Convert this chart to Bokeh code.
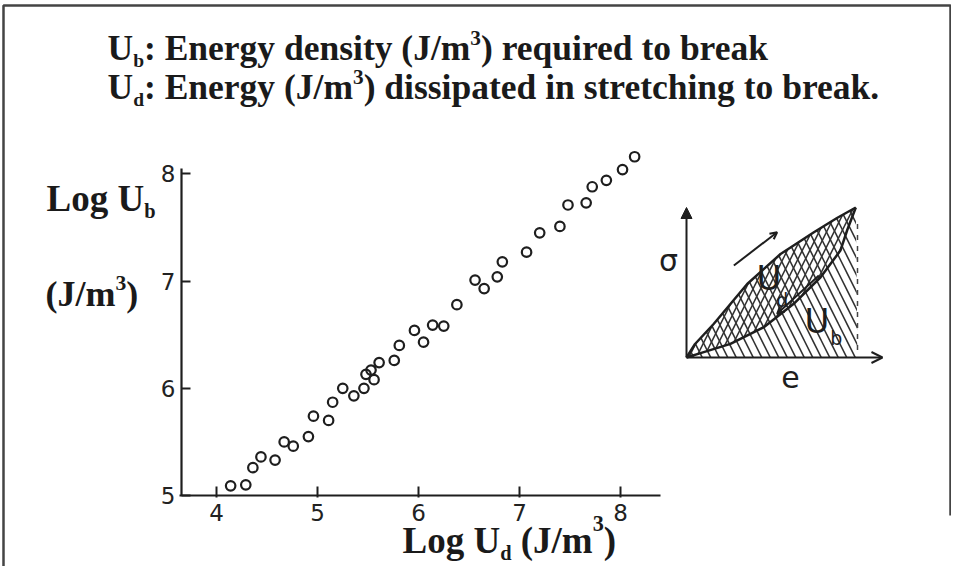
from bokeh.plotting import figure
from bokeh.models import Range1d, FixedTicker, Arrow, NormalHead, OpenHead
from bokeh.embed import file_html
from bokeh.resources import INLINE
from bokeh.core.properties import value

# ---------------- data ----------------
log_ud = [4.14, 4.29, 4.36, 4.44, 4.58, 4.67, 4.76, 4.91, 4.96, 5.11, 5.15, 5.25, 5.36,
          5.46, 5.48, 5.56, 5.61, 5.53, 5.76, 5.81, 5.96, 6.05, 6.14, 6.25, 6.38, 6.56,
          6.65, 6.78, 6.83, 7.07, 7.20, 7.40, 7.48, 7.66, 7.72, 7.86, 8.02, 8.14]
log_ub = [5.09, 5.10, 5.26, 5.36, 5.33, 5.50, 5.46, 5.55, 5.74, 5.70, 5.87, 6.00, 5.93,
          6.00, 6.13, 6.08, 6.24, 6.17, 6.26, 6.40, 6.54, 6.43, 6.59, 6.58, 6.78, 7.01,
          6.93, 7.04, 7.18, 7.27, 7.45, 7.51, 7.71, 7.73, 7.88, 7.94, 8.04, 8.16]
x_ticks = [4, 5, 6, 7, 8]
y_ticks = [5, 6, 7, 8]

# inset schematic (stress sigma vs strain e, normalised)
strain_up = [0.0, 0.05, 0.16, 0.355, 0.55, 0.745, 0.88, 0.99]
stress_up = [0.0, 0.09, 0.225, 0.49, 0.69, 0.835, 0.93, 1.0]
strain_down = [0.99, 0.94, 0.90, 0.784, 0.627, 0.452, 0.257, 0.082, 0.0]
stress_down = [1.0, 0.85, 0.713, 0.535, 0.358, 0.202, 0.091, 0.029, 0.0]
dash_e = [1.0, 1.0]
dash_s = [0.05, 0.93]

title1 = [("U", "n"), ("b", "sub"), (": Energy density (J/m", "n"), ("3", "sup"), (") required to break", "n")]
title2 = [("U", "n"), ("d", "sub"), (": Energy (J/m", "n"), ("3", "sup"), (") dissipated in stretching to break.", "n")]
ylab1 = [("Log U", "n"), ("b", "sub")]
ylab2 = [("(J/m", "n"), ("3", "sup"), (")", "n")]
xlab = [("Log U", "n"), ("d", "sub"), (" (J/m", "n"), ("3", "sup"), (")", "n")]

# ---------------- figure (frame = whole canvas, axes at fixed locations) ----------------
W, H = 951, 566
p = figure(width=W, height=H, min_border=0,
           x_range=Range1d(1.8614, 11.2772), y_range=Range1d(4.3377, 9.6175),
           output_backend="svg", toolbar_location=None, background_fill_color="white",
           border_fill_color="white")
p.extra_x_ranges = {"inset": Range1d(-4.0117, 1.5497), "px": Range1d(0, W)}
p.extra_y_ranges = {"inset": Range1d(-1.3933, 2.38), "px": Range1d(H, 0)}
p.xgrid.visible = False
p.ygrid.visible = False
p.outline_line_color = None

ink = "#1e1e1e"
for ax in (p.xaxis, p.yaxis):
    ax.axis_line_color = ink
    ax.axis_line_width = 2.2
    ax.major_tick_line_color = ink
    ax.major_tick_line_width = 2
    ax.minor_tick_line_color = None
    ax.major_label_text_font = "DejaVu Sans"
    ax.major_label_text_font_size = "23px"
    ax.major_label_text_color = "#222"
    ax.major_label_standoff = 6
p.xaxis.ticker = FixedTicker(ticks=x_ticks)
p.yaxis.ticker = FixedTicker(ticks=y_ticks)
p.xaxis.fixed_location = 5.0
p.yaxis.fixed_location = 3.6535
p.xaxis.bounds = (3.63, 8.40)
p.yaxis.bounds = (5.0, 8.05)
p.xaxis.major_tick_in = 9
p.xaxis.major_tick_out = 2
p.yaxis.major_tick_in = 9
p.yaxis.major_tick_out = 0

p.scatter(log_ud, log_ub, marker="circle", size=9.5, fill_color=None,
          line_color=ink, line_width=2.2)

# ---------------- inset ----------------
IR = dict(x_range_name="inset", y_range_name="inset")
p.patch(strain_up + [1.0], stress_up + [0.0], fill_alpha=0, line_color=None,
        hatch_pattern="\\", hatch_color="#333", hatch_scale=17, hatch_weight=1.6, **IR)
p.patch(strain_up + strain_down, stress_up + stress_down, fill_alpha=0, line_color=None,
        hatch_pattern="/", hatch_color="#333", hatch_scale=15, hatch_weight=1.6, **IR)
p.line(strain_up, stress_up, line_color=ink, line_width=2.5, **IR)
p.line(strain_down, stress_down, line_color=ink, line_width=2.5, **IR)
p.line(dash_e, dash_s, line_color="#444", line_width=1.5, line_dash="5 6", **IR)

p.add_layout(Arrow(x_start=0, y_start=0, x_end=0, y_end=1.0, line_color=ink, line_width=2,
                   end=NormalHead(size=11, fill_color=ink, line_color=ink), **IR))
p.add_layout(Arrow(x_start=0, y_start=0, x_end=1.146, y_end=0, line_color=ink, line_width=2,
                   end=OpenHead(size=11, line_color=ink, line_width=2), **IR))
p.add_layout(Arrow(x_start=0.277, y_start=0.613, x_end=0.53, y_end=0.835, line_color=ink,
                   line_width=2, end=OpenHead(size=7, line_color=ink, line_width=2), **IR))
p.add_layout(Arrow(x_start=0.774, y_start=0.547, x_end=0.53, y_end=0.291, line_color=ink,
                   line_width=2, end=OpenHead(size=7, line_color=ink, line_width=2), **IR))

hand = value("DejaVu Sans")
p.text([-0.105], [0.647], text=["σ"], text_font=hand, text_font_size="30px",
       text_align="center", text_baseline="middle", text_color=ink, **IR)
p.text([0.608], [-0.127], text=["e"], text_font=hand, text_font_size="30px",
       text_align="center", text_baseline="middle", text_color=ink, **IR)
p.text([0.41, 0.69], [0.53, 0.245], text=["U", "U"], text_font=hand, text_font_size="34px",
       text_align="left", text_baseline="middle", text_color=ink, **IR)
p.text([0.525, 0.84], [0.385, 0.13], text=["d", "b"], text_font=hand, text_font_size="19px",
       text_align="left", text_baseline="middle", text_color=ink, **IR)

# ---------------- serif texts (pixel coordinate range) ----------------
PX = dict(x_range_name="px", y_range_name="px")
TB = {" ": 250, "(": 333, ")": 333, ".": 250, "/": 278, ":": 333, "3": 500, "E": 667,
      "J": 500, "L": 667, "U": 722, "a": 500, "b": 556, "c": 444, "d": 556, "e": 444,
      "g": 500, "h": 556, "i": 278, "k": 556, "m": 833, "n": 556, "o": 500, "p": 556,
      "q": 556, "r": 444, "s": 389, "t": 333, "u": 556, "y": 500}


def tw(s, size):
    return sum(TB.get(c, 500) for c in s) / 1000.0 * size


def rich(x, base, segs, size, sup_raise=0.42):
    for text, kind in segs:
        if kind == "n":
            s, dy = size, 0
        elif kind == "sub":
            s, dy = size * 0.55, size * 0.18
        else:
            s, dy = size * 0.6, -size * sup_raise
        lead = len(text) - len(text.lstrip(" "))
        x += tw(" " * lead, s)
        body = text.lstrip(" ")
        p.text([x], [base + dy - 0.34 * s], text=[body], text_font=value("Liberation Serif"),
               text_font_style="bold", text_font_size=f"{s:.1f}px",
               text_baseline="middle", text_align="left", text_color="#1a1a1a", **PX)
        x += tw(body, s)


rich(107, 60, title1, 35.5)
rich(107, 99, title2, 35.5)
rich(46, 211, ylab1, 37)
rich(45, 306, ylab2, 36, sup_raise=0.45)
rich(402, 553, xlab, 37, sup_raise=0.6)

# outer frame of the slide
border_x = [3, 3, W - 1, W - 1]
border_y = [H + 5, 5, 5, 515]
p.line(border_x, border_y, line_color="#444", line_width=2.5, **PX)

open("out.html", "w").write(file_html(p, INLINE))
